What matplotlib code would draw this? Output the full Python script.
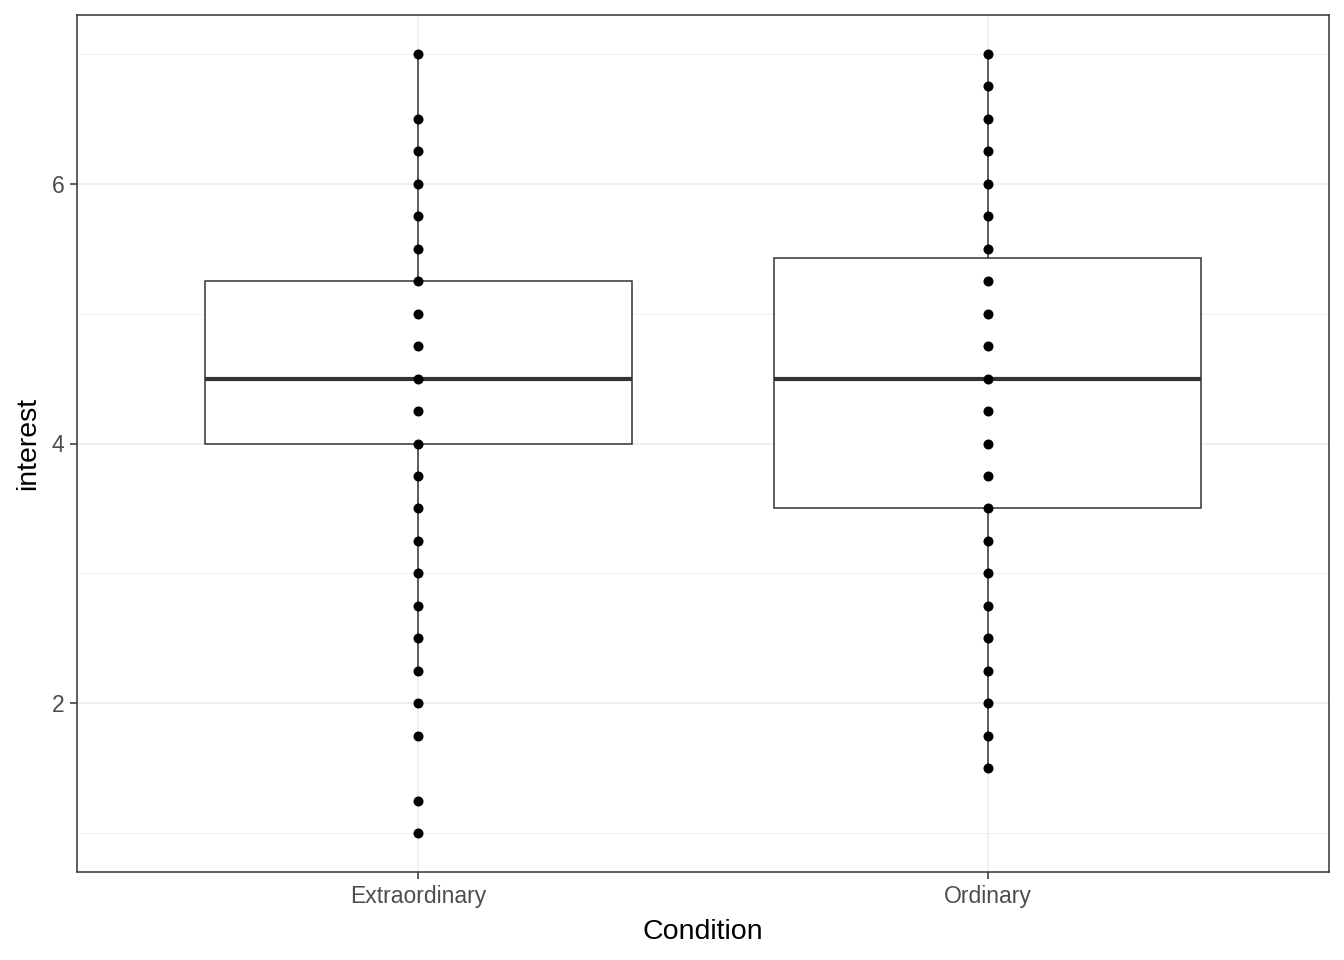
import numpy as np
import matplotlib
matplotlib.use("Agg")
import matplotlib.pyplot as plt

plt.rcParams['font.family'] = ['Liberation Sans', 'DejaVu Sans']

conditions = ["Extraordinary", "Ordinary"]

# distinct observed values of interest per condition
extra_values = [7, 6.5, 6.25, 6, 5.75, 5.5, 5.25, 5, 4.75, 4.5, 4.25, 4, 3.75,
                3.5, 3.25, 3, 2.75, 2.5, 2.25, 2, 1.75, 1.25, 1]
ordinary_values = [7, 6.75, 6.5, 6.25, 6, 5.75, 5.5, 5.25, 5, 4.75, 4.5, 4.25, 4,
                   3.75, 3.5, 3.25, 3, 2.75, 2.5, 2.25, 2, 1.75, 1.5]

# box statistics
q1 = [4.0, 3.5]
median = [4.5, 4.5]
q3 = [5.25, 5.43]
whisker_low = [2.25, 1.5]
whisker_high = [7.0, 7.0]

fig = plt.figure(figsize=(13.44, 9.6), dpi=100)
ax = fig.add_axes([77 / 1344, 1 - 872 / 960, (1329 - 77) / 1344, (872 - 15) / 960])

stats = []
for i in range(len(conditions)):
    stats.append(dict(q1=q1[i], med=median[i], q3=q3[i], whislo=whisker_low[i],
                      whishi=whisker_high[i], fliers=[]))

edge = "#333333"
ax.bxp(stats, positions=[1, 2], widths=0.75, showcaps=False, showfliers=False,
       patch_artist=True,
       boxprops=dict(facecolor="white", edgecolor=edge, linewidth=1.1),
       whiskerprops=dict(color=edge, linewidth=1.1),
       medianprops=dict(color=edge, linewidth=3.0, solid_capstyle="butt"),
       zorder=2)

for i, vals in enumerate([extra_values, ordinary_values]):
    ax.scatter(np.full(len(vals), i + 1), vals, s=52, color="black", zorder=3,
               linewidths=0)

ax.set_xlim(0.4, 2.6)
ax.set_ylim(0.7, 7.3)
ax.set_xticks([1, 2], labels=conditions)
ax.set_yticks([2, 4, 6])
ax.set_yticks([1, 3, 5, 7], minor=True)

ax.grid(True, which="major", color="#ebebeb", linewidth=1.1, zorder=0)
ax.grid(True, which="minor", axis="y", color="#ebebeb", linewidth=0.55, zorder=0)
ax.set_axisbelow(True)

for sp in ax.spines.values():
    sp.set_color("#333333")
    sp.set_linewidth(1.1)

ax.tick_params(axis="both", which="major", length=5, width=1.1, color="#333333",
               labelsize=16.5, labelcolor="#4d4d4d", pad=4)
ax.tick_params(axis="y", which="minor", length=0)

ax.set_xlabel("Condition", fontsize=20.5, color="black", labelpad=8)
ax.set_ylabel("interest", fontsize=20.5, color="black", labelpad=8)

fig.savefig("out.png", dpi=100, facecolor="white")
